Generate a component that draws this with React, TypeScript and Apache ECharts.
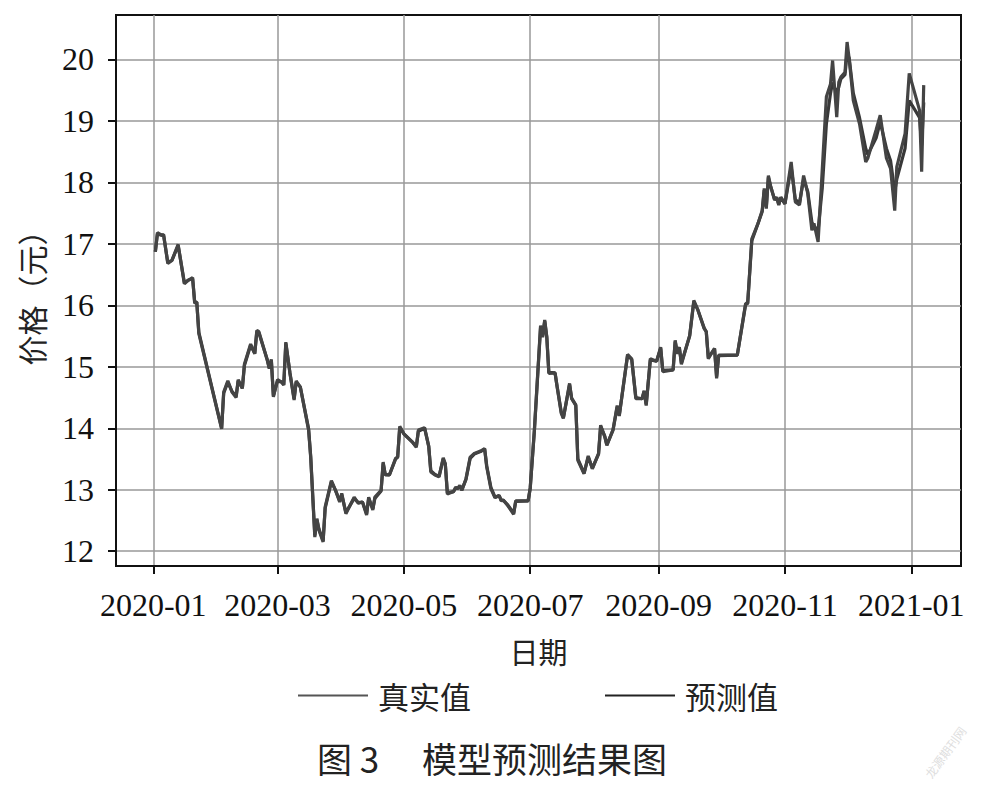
import React, { useEffect, useRef } from "react";
import * as echarts from "echarts";

const dates = [
  "2020-01-02", "2020-01-03", "2020-01-05", "2020-01-06", "2020-01-08", "2020-01-10", "2020-01-13", "2020-01-16", "2020-01-18", "2020-01-20",
  "2020-01-21", "2020-01-22", "2020-01-23", "2020-02-03", "2020-02-04", "2020-02-06", "2020-02-08", "2020-02-10", "2020-02-11", "2020-02-13",
  "2020-02-14", "2020-02-17", "2020-02-19", "2020-02-20", "2020-02-21", "2020-02-25", "2020-02-26", "2020-02-27", "2020-02-28", "2020-03-01",
  "2020-03-03", "2020-03-04", "2020-03-05", "2020-03-07", "2020-03-09", "2020-03-10", "2020-03-12", "2020-03-16", "2020-03-17", "2020-03-19",
  "2020-03-20", "2020-03-21", "2020-03-23", "2020-03-24", "2020-03-27", "2020-03-29", "2020-03-31", "2020-04-01", "2020-04-03", "2020-04-07",
  "2020-04-09", "2020-04-11", "2020-04-13", "2020-04-14", "2020-04-16", "2020-04-17", "2020-04-20", "2020-04-21", "2020-04-22", "2020-04-24",
  "2020-04-27", "2020-04-28", "2020-04-29", "2020-05-01", "2020-05-05", "2020-05-07", "2020-05-08", "2020-05-11", "2020-05-13", "2020-05-14",
  "2020-05-16", "2020-05-18", "2020-05-20", "2020-05-21", "2020-05-22", "2020-05-25", "2020-05-26", "2020-05-27", "2020-05-28", "2020-05-29",
  "2020-05-31", "2020-06-02", "2020-06-04", "2020-06-07", "2020-06-09", "2020-06-10", "2020-06-12", "2020-06-14", "2020-06-16", "2020-06-17",
  "2020-06-18", "2020-06-20", "2020-06-23", "2020-06-24", "2020-06-30", "2020-07-01", "2020-07-03", "2020-07-06", "2020-07-07", "2020-07-08",
  "2020-07-09", "2020-07-10", "2020-07-13", "2020-07-14", "2020-07-16", "2020-07-17", "2020-07-20", "2020-07-21", "2020-07-23", "2020-07-24",
  "2020-07-27", "2020-07-29", "2020-07-31", "2020-08-03", "2020-08-04", "2020-08-06", "2020-08-07", "2020-08-10", "2020-08-12", "2020-08-13",
  "2020-08-17", "2020-08-19", "2020-08-21", "2020-08-24", "2020-08-25", "2020-08-26", "2020-08-28", "2020-08-31", "2020-09-02", "2020-09-03",
  "2020-09-08", "2020-09-09", "2020-09-10", "2020-09-11", "2020-09-12", "2020-09-16", "2020-09-18", "2020-09-20", "2020-09-23", "2020-09-24",
  "2020-09-25", "2020-09-28", "2020-09-29", "2020-09-30", "2020-10-09", "2020-10-13", "2020-10-14", "2020-10-16", "2020-10-19", "2020-10-21",
  "2020-10-22", "2020-10-23", "2020-10-24", "2020-10-25", "2020-10-27", "2020-10-28", "2020-10-29", "2020-10-30", "2020-11-01", "2020-11-04",
  "2020-11-06", "2020-11-08", "2020-11-10", "2020-11-12", "2020-11-14", "2020-11-15", "2020-11-17", "2020-11-19", "2020-11-21", "2020-11-23",
  "2020-11-24", "2020-11-26", "2020-11-27", "2020-11-28", "2020-11-30", "2020-12-01", "2020-12-02", "2020-12-04", "2020-12-07", "2020-12-10",
  "2020-12-11", "2020-12-15", "2020-12-17", "2020-12-20", "2020-12-22", "2020-12-24", "2020-12-25", "2020-12-29", "2020-12-31", "2021-01-05",
  "2021-01-06", "2021-01-07",
];

const trueValues = [
  16.87, 17.18, 17.14, 17.15, 16.68, 16.73, 16.99, 16.35, 16.41, 16.45,
  16.03, 16.05, 15.54, 13.99, 14.59, 14.77, 14.59, 14.5, 14.79, 14.65,
  15.04, 15.37, 15.21, 15.59, 15.57, 15.11, 14.97, 15.12, 14.51, 14.79,
  14.75, 14.7, 15.4, 14.89, 14.46, 14.77, 14.67, 13.97, 13.53, 12.23,
  12.53, 12.34, 12.15, 12.72, 13.15, 12.99, 12.8, 12.94, 12.61, 12.88,
  12.78, 12.8, 12.59, 12.88, 12.67, 12.88, 12.99, 13.45, 13.24, 13.24,
  13.51, 13.53, 14.03, 13.91, 13.78, 13.69, 13.97, 14.01, 13.7, 13.29,
  13.24, 13.21, 13.52, 13.42, 12.93, 12.97, 13.04, 13.02, 13.07, 12.99,
  13.18, 13.53, 13.59, 13.63, 13.67, 13.37, 13.02, 12.87, 12.91, 12.82,
  12.83, 12.75, 12.6, 12.82, 12.82, 13.02, 13.97, 15.67, 15.48, 15.76,
  15.48, 14.89, 14.9, 14.67, 14.24, 14.16, 14.73, 14.48, 14.37, 13.48,
  13.26, 13.55, 13.34, 13.59, 14.05, 13.86, 13.72, 13.98, 14.37, 14.2,
  15.2, 15.13, 14.48, 14.48, 14.61, 14.37, 15.13, 15.09, 15.32, 14.92,
  14.95, 15.43, 15.21, 15.32, 15.04, 15.51, 16.08, 15.92, 15.62, 15.57,
  15.13, 15.3, 14.81, 15.19, 15.19, 16.03, 16.03, 17.08, 17.33, 17.54,
  17.9, 17.57, 18.11, 17.95, 17.71, 17.76, 17.63, 17.76, 17.65, 18.33,
  17.68, 17.63, 18.11, 17.82, 17.22, 17.33, 17.03, 18.2, 19.39, 19.6,
  19.98, 19.06, 19.63, 19.71, 19.79, 20.28, 20.01, 19.33, 18.95, 18.33,
  18.39, 18.85, 19.09, 18.39, 18.22, 17.54, 18.25, 18.79, 19.77, 19.17,
  18.17, 19.58,
];

const predValues = [
  16.87, 17.16, 17.14, 17.13, 16.7, 16.73, 16.97, 16.37, 16.41, 16.43,
  16.05, 16.05, 15.56, 14.0, 14.57, 14.75, 14.6, 14.52, 14.77, 14.65,
  15.02, 15.35, 15.22, 15.57, 15.55, 15.12, 14.98, 15.1, 14.53, 14.77,
  14.75, 14.71, 15.38, 14.9, 14.48, 14.75, 14.67, 13.99, 13.55, 12.26,
  12.51, 12.36, 12.17, 12.7, 13.13, 12.99, 12.82, 12.92, 12.63, 12.86,
  12.79, 12.8, 12.61, 12.86, 12.69, 12.86, 12.98, 13.43, 13.25, 13.24,
  13.5, 13.53, 14.01, 13.91, 13.78, 13.7, 13.95, 14.0, 13.71, 13.31,
  13.25, 13.22, 13.5, 13.42, 12.95, 12.97, 13.03, 13.02, 13.06, 13.0,
  13.17, 13.51, 13.58, 13.62, 13.66, 13.39, 13.04, 12.88, 12.9, 12.83,
  12.83, 12.76, 12.62, 12.81, 12.82, 13.03, 13.95, 15.64, 15.5, 15.74,
  15.49, 14.91, 14.9, 14.68, 14.26, 14.17, 14.71, 14.49, 14.38, 13.5,
  13.27, 13.53, 13.35, 13.58, 14.03, 13.87, 13.73, 13.97, 14.35, 14.21,
  15.18, 15.12, 14.5, 14.48, 14.6, 14.39, 15.11, 15.09, 15.3, 14.94,
  14.95, 15.41, 15.22, 15.31, 15.06, 15.5, 16.06, 15.92, 15.63, 15.57,
  15.15, 15.29, 14.84, 15.18, 15.19, 16.01, 16.03, 17.05, 17.33, 17.52,
  17.87, 17.6, 18.08, 17.94, 17.72, 17.75, 17.64, 17.75, 17.65, 18.25,
  17.72, 17.66, 18.05, 17.85, 17.35, 17.28, 17.22, 17.9, 18.95, 19.45,
  19.62, 19.45, 19.55, 19.68, 19.75, 20.1, 20.02, 19.45, 19.05, 18.55,
  18.45, 18.72, 18.98, 18.55, 18.35, 17.85, 18.05, 18.55, 19.33, 19.05,
  18.6, 19.3,
];

const xTickLabels = ["2020-01", "2020-03", "2020-05", "2020-07", "2020-09", "2020-11", "2021-01"];
const yTickValues = [12, 13, 14, 15, 16, 17, 18, 19, 20];
const seriesNames = ["真实值", "预测值"];

const toTs = (s: string) => {
  const p = s.split("-").map(Number);
  return new Date(p[0], p[1] - 1, p[2] || 1).getTime();
};

const SERIF = '"Liberation Serif", "DejaVu Serif", serif';
const CJK = '"Noto Sans CJK SC", "Noto Sans", sans-serif';

export default function App() {
  const ref = useRef<HTMLDivElement>(null);
  useEffect(() => {
    document.body.style.margin = "0";
    const chart = echarts.init(ref.current as HTMLDivElement, null, { renderer: "svg" });
    const xTicks = xTickLabels.map(toTs);
    const fmtX = (v: number) => {
      const d = new Date(v);
      return `${d.getFullYear()}-${String(d.getMonth() + 1).padStart(2, "0")}`;
    };
    chart.setOption({
      animation: false,
      backgroundColor: "#fff",
      grid: {
        left: 116,
        right: 23,
        top: 15,
        bottom: 222,
        containLabel: false,
        show: true,
        borderColor: "#111",
        borderWidth: 2,
        backgroundColor: "transparent",
      },
      legend: {
        left: 293,
        top: 675,
        icon: "rect",
        itemWidth: 70,
        itemHeight: 2,
        itemGap: 134,
        textStyle: {
          fontFamily: CJK,
          fontSize: 31,
          color: "#222",
          padding: [0, 0, 0, 5],
        },
        data: [
          { name: seriesNames[0], itemStyle: { color: "#555" } },
          { name: seriesNames[1], itemStyle: { color: "#222" } },
        ],
      },
      xAxis: {
        type: "value",
        min: toTs("2019-12-14"),
        max: toTs("2021-01-25"),
        name: "日期",
        nameLocation: "middle",
        nameGap: 70,
        nameTextStyle: { fontFamily: CJK, fontSize: 29, color: "#222" },
        axisLine: { show: true, lineStyle: { color: "#111", width: 2 } },
        axisTick: { show: true, length: 8, lineStyle: { color: "#111", width: 2 }, customValues: xTicks },
        axisLabel: {
          customValues: xTicks,
          formatter: fmtX,
          fontFamily: SERIF,
          fontSize: 32,
          color: "#111",
          margin: 23,
        },
        splitLine: { show: true, lineStyle: { color: "#999", width: 1.5 } },
      },
      yAxis: {
        type: "value",
        min: 11.76,
        max: 20.72,
        name: "价格（元）",
        nameLocation: "middle",
        nameGap: 70,
        nameRotate: 90,
        nameTextStyle: { fontFamily: CJK, fontSize: 30, color: "#222" },
        axisLine: { show: true, lineStyle: { color: "#111", width: 2 } },
        axisTick: { show: true, length: 8, lineStyle: { color: "#111", width: 2 }, customValues: yTickValues },
        axisLabel: {
          customValues: yTickValues,
          fontFamily: SERIF,
          fontSize: 32,
          color: "#111",
          margin: 22,
        },
        splitLine: { show: true, lineStyle: { color: "#999", width: 1.5 } },
      },
      series: [
        {
          name: seriesNames[1],
          type: "line",
          showSymbol: false,
          symbol: "none",
          data: dates.map((d, i) => [toTs(d), predValues[i]]),
          lineStyle: { color: "#383838", width: 3.2 },
          itemStyle: { color: "#222" },
          z: 2,
        },
        {
          name: seriesNames[0],
          type: "line",
          showSymbol: false,
          symbol: "none",
          data: dates.map((d, i) => [toTs(d), trueValues[i]]),
          lineStyle: { color: "#444", width: 3.2 },
          itemStyle: { color: "#555" },
          z: 3,
        },
      ],
      graphic: [
        {
          type: "text",
          left: "center",
          top: 740,
          style: {
            text: "图 3　 模型预测结果图",
            font: `35px ${CJK}`,
            fill: "#222",
          },
        },
        {
          type: "text",
          x: 945,
          y: 752,
          rotation: Math.PI * 0.3,
          style: {
            text: "龙源期刊网",
            font: `12px ${CJK}`,
            fill: "#dedede",
            textAlign: "center",
            textVerticalAlign: "middle",
          },
        },
      ],
    });
    return () => chart.dispose();
  }, []);
  return <div ref={ref} style={{ width: 984, height: 788 }} />;
}
